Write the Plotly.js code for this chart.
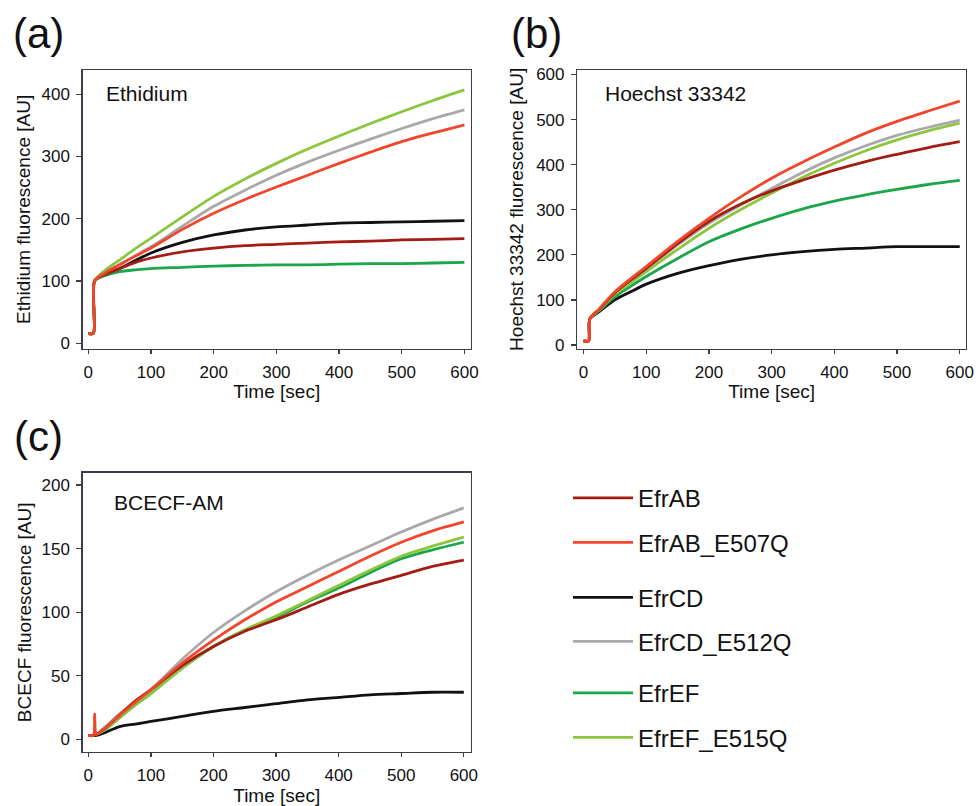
<!DOCTYPE html>
<html>
<head>
<meta charset="utf-8">
<script src="https://cdn.plot.ly/plotly-3.0.1.min.js"></script>
<style>html,body{margin:0;padding:0;background:#fff;} #chart{width:976px;height:806px;}</style>
</head>
<body>
<div id="chart"></div>
<script>
// ---- data ----
const seriesNames = ["EfrCD", "EfrCD_E512Q", "EfrEF", "EfrEF_E515Q", "EfrAB", "EfrAB_E507Q"];
const seriesColors = ["#111111", "#a9a9a9", "#1ba64a", "#8cc63f", "#a31d14", "#f1462b"];

const timeA = [0, 8, 10, 25, 50, 75, 100, 150, 200, 250, 300, 350, 400, 450, 500, 550, 600];
const ethEfrAB      = [16,16,100,110,120,130,137,147,153,157,159,161,163,164,166,167,168];
const ethEfrABE507Q = [16,16,100,112,126,140,153,183,209,231,251,270,289,307,324,338,351];
const ethEfrCD      = [16,16,100,110,120,133,145,162,174,182,187,190,193,194,195,196,197];
const ethEfrCDE512Q = [16,16,100,113,127,141,155,188,220,246,270,291,310,328,345,361,375];
const ethEfrEF      = [16,16,100,108,115,118,120,122,124,125,126,126,127,128,128,129,130];
const ethEfrEFE515Q = [16,16,100,116,134,152,169,203,236,264,289,312,333,353,372,390,407];

const timeB = [0, 8, 10, 25, 50, 75, 100, 150, 200, 250, 300, 350, 400, 450, 500, 550, 600];
const hoeEfrAB      = [9,9,58,79,116,144,170,225,274,312,342,366,388,407,423,438,451];
const hoeEfrABE507Q = [9,9,58,80,118,147,174,230,281,328,370,406,439,470,496,519,541];
const hoeEfrCD      = [9,9,58,74,100,118,135,159,176,190,200,207,212,215,218,218,218];
const hoeEfrCDE512Q = [9,9,58,79,115,142,168,222,270,310,347,383,415,442,465,483,499];
const hoeEfrEF      = [9,9,58,76,107,130,152,192,229,257,281,302,319,333,345,356,365];
const hoeEfrEFE515Q = [9,9,58,78,113,138,163,212,259,300,337,372,403,431,455,475,492];

const timeC = [0, 8, 10, 13, 25, 50, 75, 100, 150, 200, 250, 300, 350, 400, 450, 500, 550, 600];
const bceEfrAB      = [3,3,4,4,8,19,30,39,58,73,85,94,104,114,122,129,136,141];
const bceEfrABE507Q = [3,3,20,4,8,19,29,39,60,78,94,108,120,132,144,155,164,171];
const bceEfrCD      = [3,3,3,3,5,10,12,14,18,22,25,28,31,33,35,36,37,37];
const bceEfrCDE512Q = [3,3,4,4,9,20,30,39,63,84,101,116,129,141,152,163,173,182];
const bceEfrEF      = [3,3,4,4,7,17,27,36,56,73,86,96,108,119,131,142,149,155];
const bceEfrEFE515Q = [3,3,4,4,7,17,27,36,56,73,86,97,109,121,133,144,152,159];

const xTickVals = [0, 100, 200, 300, 400, 500, 600];
const yTicksA = [0, 100, 200, 300, 400];
const yTicksB = [0, 100, 200, 300, 400, 500, 600];
const yTicksC = [0, 50, 100, 150, 200];

// ---- build traces ----
const ethSeries = [ethEfrCD, ethEfrCDE512Q, ethEfrEF, ethEfrEFE515Q, ethEfrAB, ethEfrABE507Q];
const hoeSeries = [hoeEfrCD, hoeEfrCDE512Q, hoeEfrEF, hoeEfrEFE515Q, hoeEfrAB, hoeEfrABE507Q];
const bceSeries = [bceEfrCD, bceEfrCDE512Q, bceEfrEF, bceEfrEFE515Q, bceEfrAB, bceEfrABE507Q];
// legend slot per series (legend order: EfrAB, EfrAB_E507Q, EfrCD, EfrCD_E512Q, EfrEF, EfrEF_E515Q)
const legendSlot = [3, 4, 5, 6, 1, 2];

const FONT = "Liberation Sans, Arial, sans-serif";
const traces = [];
function addPanel(t, arrs, xa, ya, showLeg) {
  arrs.forEach((ys, i) => {
    const slot = legendSlot[i];
    traces.push({
      type: "scatter", mode: "lines", x: t, y: ys,
      xaxis: xa, yaxis: ya, name: seriesNames[i],
      line: {color: seriesColors[i], width: 2.8, shape: "spline", smoothing: 0.8},
      showlegend: showLeg,
      legend: slot === 1 ? "legend" : "legend" + slot,
      hoverinfo: "skip"
    });
  });
}
addPanel(timeA, ethSeries, "x", "y", true);
addPanel(timeB, hoeSeries, "x2", "y2", false);
addPanel(timeC, bceSeries, "x3", "y3", false);

const W = 976, H = 806;
const px = v => v / W;
const py = v => 1 - v / H;

const axisLine = "#3c3c4a";
function xAxis(domain, anchor) {
  return {
    domain: domain, anchor: anchor, range: [-9, 610],
    tickvals: xTickVals, ticks: "outside", ticklen: 4, tickwidth: 1.2, tickcolor: axisLine,
    ticklabelstandoff: 3,
    showline: true, linecolor: axisLine, linewidth: 1.4, mirror: true,
    showgrid: false, zeroline: false,
    tickfont: {family: FONT, size: 17, color: "#111"},
    title: {text: "Time [sec]", font: {family: FONT, size: 19, color: "#111"}, standoff: 3},
    automargin: false, fixedrange: true
  };
}
function yAxis(domain, anchor, range, ticks, title, standoff) {
  return {
    domain: domain, anchor: anchor, range: range,
    tickvals: ticks, ticks: "outside", ticklen: 5, tickwidth: 1.2, tickcolor: axisLine,
    ticklabelstandoff: 3,
    showline: true, linecolor: axisLine, linewidth: 1.4, mirror: true,
    showgrid: false, zeroline: false,
    tickfont: {family: FONT, size: 17, color: "#111"},
    title: {text: title, font: {family: FONT, size: 19, color: "#111"}, standoff: standoff},
    automargin: false, fixedrange: true
  };
}

const legendRows = [498.3, 542.7, 597.7, 641.7, 693.3, 737.7];
const layout = {
  width: W, height: H,
  margin: {l: 0, r: 0, t: 0, b: 0},
  paper_bgcolor: "#ffffff", plot_bgcolor: "#ffffff",
  font: {family: FONT, color: "#111"},
  xaxis: xAxis([px(82.7), px(470.7)], "y"),
  yaxis: yAxis([py(348.7), py(70)], "x", [-8.7, 439], yTicksA, "Ethidium fluorescence [AU]", 6),
  xaxis2: Object.assign(xAxis([px(577.3), px(966)], "y2"), {range: [-10, 610]}),
  yaxis2: yAxis([py(348.7), py(70)], "x2", [-8.2, 610], yTicksB, "Hoechst 33342 fluorescence [AU]", 7),
  xaxis3: Object.assign(xAxis([px(82.7), px(470.7)], "y3"), {range: [-9, 611]}),
  yaxis3: yAxis([py(752), py(472.7)], "x3", [-10, 209.7], yTicksC, "BCECF fluorescence [AU]", 5),
  annotations: [
    {text: "(a)", xref: "paper", yref: "paper", x: px(38), y: py(33), xanchor: "center", yanchor: "middle", showarrow: false, font: {family: FONT, size: 42, color: "#111"}},
    {text: "(b)", xref: "paper", yref: "paper", x: px(536), y: py(33), xanchor: "center", yanchor: "middle", showarrow: false, font: {family: FONT, size: 42, color: "#111"}},
    {text: "(c)", xref: "paper", yref: "paper", x: px(38), y: py(437), xanchor: "center", yanchor: "middle", showarrow: false, font: {family: FONT, size: 42, color: "#111"}},
    {text: "Ethidium", xref: "paper", yref: "paper", x: px(104), y: py(93.5), xanchor: "left", yanchor: "middle", showarrow: false, font: {family: FONT, size: 21, color: "#111"}},
    {text: "Hoechst 33342", xref: "paper", yref: "paper", x: px(603), y: py(93.5), xanchor: "left", yanchor: "middle", showarrow: false, font: {family: FONT, size: 21, color: "#111"}},
    {text: "BCECF-AM", xref: "paper", yref: "paper", x: px(112), y: py(502), xanchor: "left", yanchor: "middle", showarrow: false, font: {family: FONT, size: 21, color: "#111"}}
  ]
};
legendRows.forEach((yy, k) => {
  const key = k === 0 ? "legend" : "legend" + (k + 1);
  layout[key] = {
    x: px(568), y: py(yy), xanchor: "left", yanchor: "middle",
    bgcolor: "rgba(0,0,0,0)", borderwidth: 0,
    font: {family: FONT, size: 24, color: "#111"},
    itemwidth: 60, itemclick: false, itemdoubleclick: false
  };
});

Plotly.newPlot("chart", traces, layout, {staticPlot: true, displayModeBar: false});
</script>
</body>
</html>
